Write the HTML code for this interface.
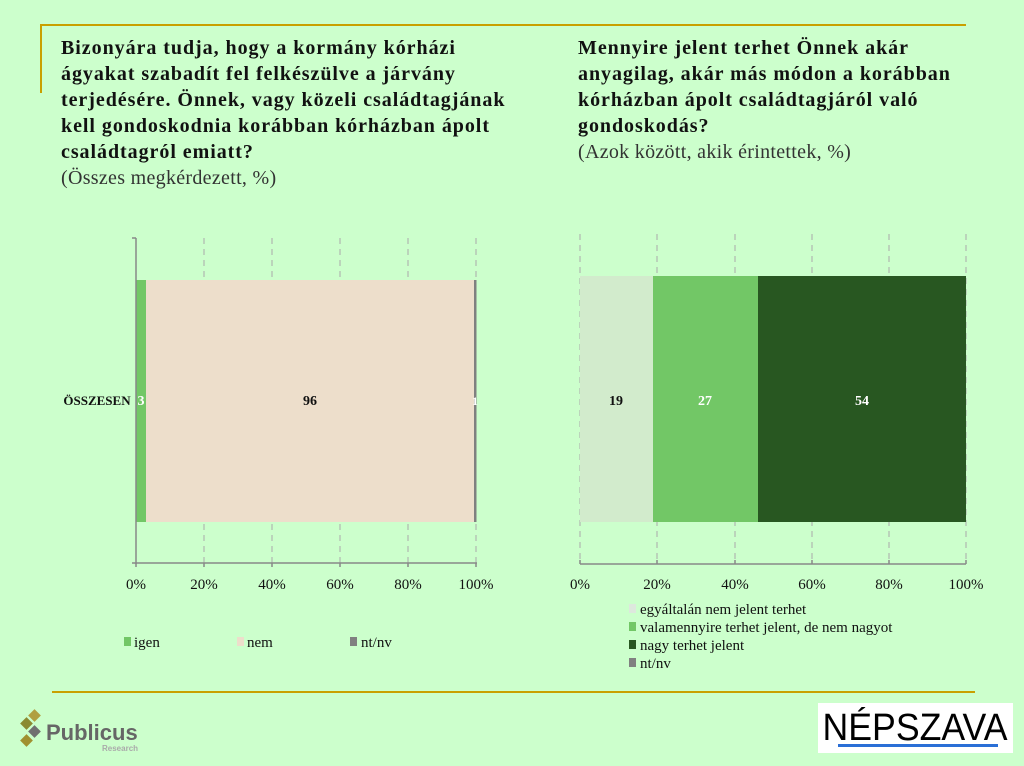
<!DOCTYPE html>
<html><head><meta charset="utf-8"><style>
body{margin:0;width:1024px;height:766px;background:#ccffcc;position:relative;overflow:hidden;font-family:"Liberation Serif",serif;}
.t{position:absolute;font-size:20px;line-height:26px;color:#111;white-space:nowrap;letter-spacing:0.95px;}
.t b{font-weight:bold;}
.t span{font-weight:normal;color:#333;letter-spacing:0.3px;}
</style></head><body>
<div style="position:absolute;left:40px;top:24px;width:926px;height:2px;background:#c9a000"></div>
<div style="position:absolute;left:40px;top:24px;width:2px;height:69px;background:#c9a000"></div>
<div class="t" style="left:61px;top:35px"><b>Bizonyára tudja, hogy a kormány kórházi<br>ágyakat szabadít fel felkészülve a járvány<br>terjedésére. Önnek, vagy közeli családtagjának<br>kell gondoskodnia korábban kórházban ápolt<br>családtagról emiatt?</b><br><span>(Összes megkérdezett, %)</span></div>
<div class="t" style="left:578px;top:35px"><b>Mennyire jelent terhet Önnek akár<br>anyagilag, akár más módon a korábban<br>kórházban ápolt családtagjáról való<br>gondoskodás?</b><br><span>(Azok között, akik érintettek, %)</span></div>
<svg width="1024" height="766" style="position:absolute;left:0;top:0" font-family="Liberation Serif, serif">
<g stroke="#aaa" stroke-dasharray="6,5" stroke-width="1">
<line x1="204" y1="238" x2="204" y2="563"/><line x1="272" y1="238" x2="272" y2="563"/><line x1="340" y1="238" x2="340" y2="563"/><line x1="408" y1="238" x2="408" y2="563"/><line x1="476" y1="238" x2="476" y2="563"/>
<line x1="580" y1="234" x2="580" y2="563"/><line x1="657" y1="234" x2="657" y2="563"/><line x1="735" y1="234" x2="735" y2="563"/><line x1="812" y1="234" x2="812" y2="563"/><line x1="889" y1="234" x2="889" y2="563"/><line x1="966" y1="234" x2="966" y2="563"/>
</g>
<rect x="136" y="280" width="10" height="242" fill="#72c766"/>
<rect x="146" y="280" width="328" height="242" fill="#eddecb"/>
<rect x="474" y="280" width="2.5" height="242" fill="#808080"/>
<rect x="580" y="276" width="73" height="246" fill="#d2ebcc"/>
<rect x="653" y="276" width="105" height="246" fill="#72c766"/>
<rect x="758" y="276" width="208" height="246" fill="#285721"/>
<g stroke="#888" stroke-width="1.5" fill="none">
<line x1="136" y1="238" x2="136" y2="564"/><line x1="132" y1="238" x2="136" y2="238"/>
<line x1="132" y1="563" x2="477" y2="563"/>
<line x1="580" y1="564" x2="966" y2="564"/>
</g>
<g stroke="#888" stroke-width="1.5">
<line x1="136" y1="563" x2="136" y2="567"/><line x1="204" y1="563" x2="204" y2="567"/><line x1="272" y1="563" x2="272" y2="567"/><line x1="340" y1="563" x2="340" y2="567"/><line x1="408" y1="563" x2="408" y2="567"/><line x1="476" y1="563" x2="476" y2="567"/>
<line x1="580" y1="560" x2="580" y2="564"/><line x1="657" y1="560" x2="657" y2="564"/><line x1="735" y1="560" x2="735" y2="564"/><line x1="812" y1="560" x2="812" y2="564"/><line x1="889" y1="560" x2="889" y2="564"/><line x1="966" y1="560" x2="966" y2="564"/>
</g>
<g font-size="14" font-weight="bold" text-anchor="middle" fill="#111">
<text x="97" y="405" font-size="13">ÖSSZESEN</text>
<text x="141" y="405" fill="#fff">3</text>
<text x="310" y="405">96</text>
<text x="475" y="405" fill="#fff" font-size="12">1</text>
<text x="616" y="405">19</text>
<text x="705" y="405" fill="#fff">27</text>
<text x="862" y="405" fill="#fff">54</text>
</g>
<g font-size="15" text-anchor="middle" fill="#111">
<text x="136" y="589">0%</text><text x="204" y="589">20%</text><text x="272" y="589">40%</text><text x="340" y="589">60%</text><text x="408" y="589">80%</text><text x="476" y="589">100%</text>
<text x="580" y="589">0%</text><text x="657" y="589">20%</text><text x="735" y="589">40%</text><text x="812" y="589">60%</text><text x="889" y="589">80%</text><text x="966" y="589">100%</text>
</g>
<g font-size="15" fill="#111">
<rect x="124" y="637" width="7" height="9" fill="#72c766"/><text x="134" y="647">igen</text>
<rect x="237" y="637" width="7" height="9" fill="#eddecb"/><text x="247" y="647">nem</text>
<rect x="350" y="637" width="7" height="9" fill="#808080"/><text x="361" y="647">nt/nv</text>
<rect x="629" y="604" width="7" height="9" fill="#dde8dd"/><text x="640" y="614">egyáltalán nem jelent terhet</text>
<rect x="629" y="622" width="7" height="9" fill="#72c766"/><text x="640" y="632">valamennyire terhet jelent, de nem nagyot</text>
<rect x="629" y="640" width="7" height="9" fill="#285721"/><text x="640" y="650">nagy terhet jelent</text>
<rect x="629" y="658" width="7" height="9" fill="#808080"/><text x="640" y="668">nt/nv</text>
</g>
<line x1="52" y1="692" x2="975" y2="692" stroke="#c9a000" stroke-width="2"/>
<g><rect x="22" y="719" width="9" height="9" transform="rotate(45 26.5 723.5)" fill="#8a8a30"/><rect x="30" y="711" width="9" height="9" transform="rotate(45 34.5 715.5)" fill="#b0a040"/><rect x="30" y="727" width="9" height="9" transform="rotate(45 34.5 731.5)" fill="#707070"/><rect x="22" y="736" width="9" height="9" transform="rotate(45 26.5 740.5)" fill="#a09030"/></g>
<text x="46" y="740" font-family="Liberation Sans, sans-serif" font-weight="bold" font-size="22" fill="#666">Publicus</text>
<text x="102" y="751" font-family="Liberation Sans, sans-serif" font-weight="bold" font-size="8" fill="#aaa">Research</text>
<rect x="818" y="703" width="195" height="50" fill="#fff"/>
<text x="915" y="740" text-anchor="middle" font-family="Liberation Sans, sans-serif" font-size="38" fill="#000" textLength="185" lengthAdjust="spacingAndGlyphs">NÉPSZAVA</text>
<rect x="838" y="744" width="160" height="3" fill="#2a6fd6"/>
</svg>
</body></html>
